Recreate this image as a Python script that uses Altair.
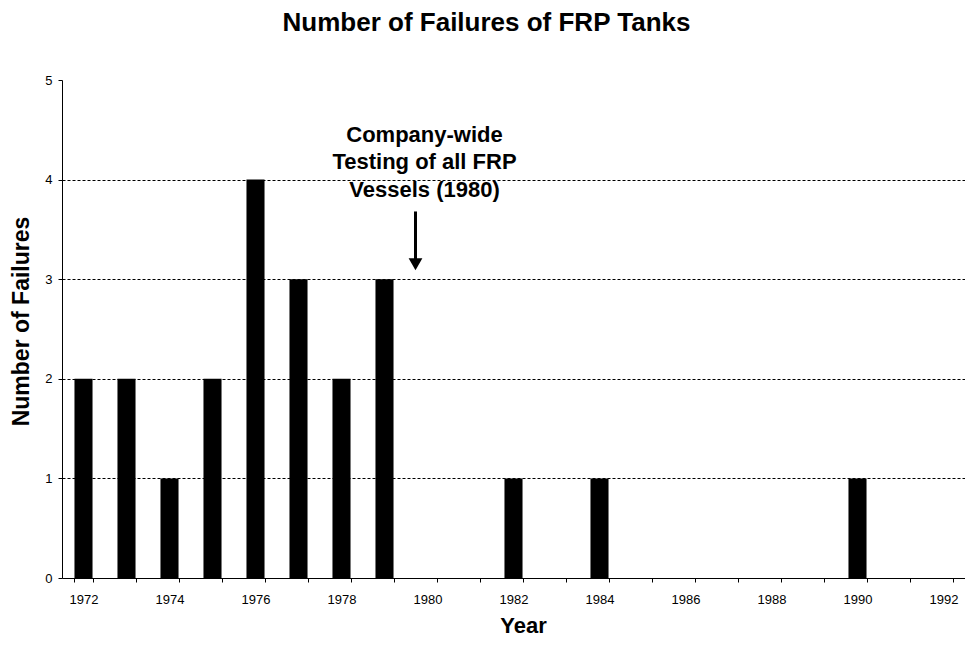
import altair as alt
import pandas as pd

years = ["1972", "1973", "1974", "1975", "1976", "1977", "1978", "1979", "1980", "1981",
         "1982", "1983", "1984", "1985", "1986", "1987", "1988", "1989", "1990", "1991", "1992"]
failures = [2, 2, 1, 2, 4, 3, 2, 3, 0, 0, 1, 0, 1, 0, 0, 0, 0, 0, 1, 0, 0]

note_year = ["1980"]
note_text = ["Company-wide\nTesting of all FRP\nVessels (1980)"]
note_y = [4.55]
arrow_top = [3.68]
arrow_tip = [3.15]

FONT = "Liberation Sans"

df = pd.DataFrame({"year": years, "failures": failures})
note_df = pd.DataFrame({"year": note_year, "text": note_text, "y": note_y,
                        "top": arrow_top, "tip": arrow_tip})

x_enc = alt.X(
    "year:N",
    sort=years,
    scale=alt.Scale(paddingInner=0.58, paddingOuter=0.29),
    axis=alt.Axis(
        title="Year",
        labelExpr="parseInt(datum.label) % 2 == 0 ? datum.label : ''",
        labelAngle=0,
        tickBand="extent",
        tickSize=4,
        tickColor="black",
        domainColor="black",
        labelColor="black",
        labelFont=FONT,
        labelFontSize=13,
        labelPadding=11,
        titleFont=FONT,
        titleFontSize=22,
        titleFontWeight="bold",
        titleColor="black",
        titlePadding=9,
        titleX=461,
        grid=False,
    ),
)

y_enc = alt.Y(
    "failures:Q",
    scale=alt.Scale(domain=[0, 5]),
    axis=alt.Axis(
        title="Number of Failures",
        values=[0, 1, 2, 3, 4, 5],
        format="d",
        grid=True,
        gridColor="black",
        gridDash=[3, 2],
        gridOpacity={"condition": {"test": "datum.value === 5 || datum.value === 0", "value": 0}, "value": 1},
        tickSize=4,
        tickColor="black",
        domainColor="black",
        labelColor="black",
        labelFont=FONT,
        labelFontSize=13,
        labelPadding=6,
        titleFont=FONT,
        titleFontSize=23,
        titleFontWeight="bold",
        titleColor="black",
        titlePadding=11,
        titleY=241,
    ),
)

bars = alt.Chart(df).mark_bar(color="black").encode(x=x_enc, y=y_enc)

note = alt.Chart(note_df).mark_text(
    font=FONT, fontSize=22, fontWeight="bold", lineBreak="\n", lineHeight=27.5,
    baseline="top", align="center", dx=-3, color="black"
).encode(x=alt.X("year:N", sort=years), y=alt.Y("y:Q"), text="text:N")

arrow = alt.Chart(note_df).mark_rule(color="black", strokeWidth=3, xOffset=-12).encode(
    x=alt.X("year:N", sort=years), y=alt.Y("top:Q"), y2="tip:Q"
)

head = alt.Chart(note_df).mark_point(
    shape="triangle-down", filled=True, color="black", size=190, opacity=1, xOffset=-12
).encode(x=alt.X("year:N", sort=years), y=alt.Y("tip:Q"))

chart = alt.layer(bars, arrow, head, note).properties(
    width=903,
    height=498,
    autosize=alt.AutoSizeParams(type="none"),
    padding={"left": 54, "top": 72, "right": 0, "bottom": 59},
    title=alt.Title(
        "Number of Failures of FRP Tanks",
        font=FONT, fontSize=26, fontWeight="bold", color="black",
        anchor="middle", frame="group", offset=38, dx=-27,
    ),
    background="white",
).configure_view(stroke=None)

chart.save("out.html", embed_options={"renderer": "svg", "actions": False})
